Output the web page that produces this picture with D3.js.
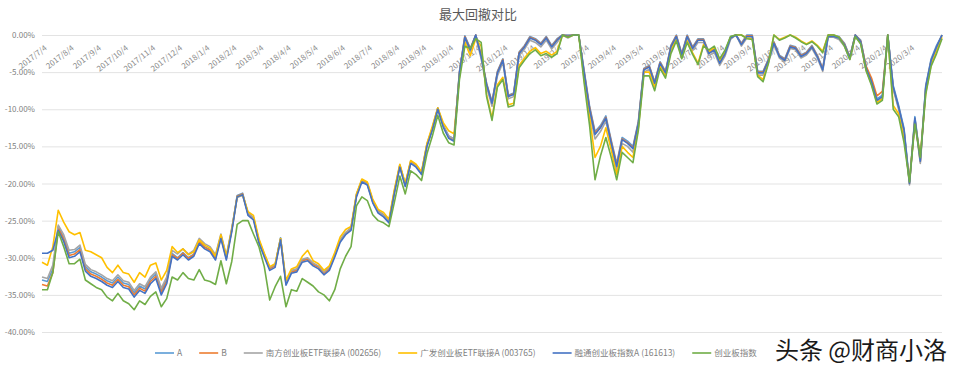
<!DOCTYPE html>
<html><head><meta charset="utf-8">
<script src="https://cdn.jsdelivr.net/npm/d3@7"></script>
<style>
body{margin:0;background:#fff;}
text{font-family:"Microsoft YaHei","Noto Sans CJK SC","Noto Sans",sans-serif;}
</style></head>
<body><svg id="c" width="960" height="367"></svg>
<script>
const monthLabels = ["2017/7/4","2017/8/4","2017/9/4","2017/10/4","2017/11/4","2017/12/4","2018/1/4","2018/2/4","2018/3/4","2018/4/4","2018/5/4","2018/6/4","2018/7/4","2018/8/4","2018/9/4","2018/10/4","2018/11/4","2018/12/4","2019/1/4","2019/2/4","2019/3/4","2019/4/4","2019/5/4","2019/6/4","2019/7/4","2019/8/4","2019/9/4","2019/10/4","2019/11/4","2019/12/4","2020/1/4","2020/2/4","2020/3/4"];
const samplesPerMonth = 5;
const yTicks = [0,-5,-10,-15,-20,-25,-30,-35,-40];
const seriesNames = ["A","B","南方创业板ETF联接A (002656)","广发创业板ETF联接A (003765)","融通创业板指数A (161613)","创业板指数"];

const seriesA = [-33.0,-33.2,-31.5,-25.8,-27.3,-29.4,-29.2,-28.6,-31.2,-31.9,
-32.2,-32.6,-33.1,-33.4,-32.6,-33.4,-33.6,-34.7,-33.8,-34.2,
-32.9,-32.2,-34.4,-32.9,-29.4,-30.0,-29.3,-30.0,-29.5,-27.8,
-28.5,-28.9,-30.0,-27.1,-30.0,-26.2,-21.6,-21.3,-24.0,-24.6,
-27.7,-29.6,-31.4,-31.0,-27.3,-33.4,-31.8,-31.6,-30.3,-30.1,
-30.8,-31.2,-32.0,-31.4,-29.6,-27.6,-26.6,-26.0,-21.5,-19.5,
-19.9,-22.3,-23.7,-24.2,-25.0,-21.0,-17.5,-20.1,-17.0,-17.5,
-18.5,-14.7,-12.5,-9.8,-12.1,-13.6,-14.0,-4.9,-0.1,-1.8,
0,-2.7,-6.5,-9.0,-4.9,-3.2,-8.1,-7.8,-2.3,-1.4,
-0.2,-0.5,-1.1,-0.2,-1.4,-0.5,0,0,0,0,
-4.8,-9.6,-13.0,-12.2,-10.9,-14.2,-17.3,-13.8,-14.3,-15.0,
-11.6,-4.5,-4.1,-6.3,-3.6,-4.9,-1.4,0,-2.5,0,
-1.6,-0.5,-0.5,-2.3,-1.8,-3.6,-2.3,-0.2,0,-1.1,
0,0,-4.9,-4.9,-3.2,-0.9,-2.7,-3.2,-1.4,-1.6,
-2.7,-2.3,-1.4,-2.7,-4.5,0,0,-0.2,-1.1,-2.9,
0,-0.7,-4.3,-6.1,-8.6,-8.1,0,-6.8,-9.5,-12.6,
-19.8,-11.0,-16.8,-6.8,-3.2,-1.4,0];

const seriesB = [-33.6,-33.8,-32.0,-26.0,-27.5,-29.7,-29.5,-28.9,-31.5,-32.2,
-32.5,-32.9,-33.4,-33.7,-32.9,-33.7,-33.9,-35.0,-34.1,-34.5,
-33.2,-32.5,-34.7,-33.2,-29.6,-30.1,-29.4,-30.1,-29.6,-27.9,
-28.6,-29.0,-30.1,-27.2,-30.1,-26.3,-21.7,-21.4,-24.1,-24.7,
-27.8,-29.7,-31.5,-31.1,-27.5,-33.5,-31.9,-31.7,-30.4,-30.2,
-30.9,-31.3,-32.1,-31.5,-29.7,-27.7,-26.7,-26.1,-21.6,-19.6,
-20.0,-22.4,-23.8,-24.3,-25.1,-21.1,-17.6,-20.2,-17.1,-17.6,
-18.6,-14.8,-12.6,-9.9,-12.2,-13.7,-14.1,-5.0,-0.2,-1.9,
0,-2.8,-6.6,-9.1,-5.0,-3.3,-8.2,-7.9,-2.4,-1.5,
-0.3,-0.6,-1.2,-0.3,-1.5,-0.6,0,-0.1,0,0,
-5.0,-9.8,-13.2,-12.4,-11.1,-14.4,-17.5,-14.0,-14.5,-15.2,
-11.8,-4.6,-4.2,-6.4,-3.7,-5.0,-1.5,-0.1,-2.6,-0.1,
-1.7,-0.6,-0.6,-2.4,-1.9,-3.7,-2.4,-0.3,0,-1.2,
-0.1,-0.1,-5.0,-5.0,-3.3,-1.0,-2.8,-3.3,-1.5,-1.7,
-2.8,-2.4,-1.5,-2.8,-4.6,-0.1,-0.1,-0.3,-1.2,-3.0,
0,-0.8,-4.2,-5.8,-8.2,-7.6,0,-7.2,-9.8,-13.0,
-20.0,-11.3,-17.1,-7.1,-3.5,-1.7,0];

const nanfang = [-32.6,-32.8,-31.0,-25.6,-26.9,-29.0,-28.9,-28.3,-30.9,-31.6,
-31.9,-32.3,-32.8,-33.1,-32.3,-33.1,-33.3,-34.4,-33.5,-33.9,
-32.6,-31.9,-34.1,-32.6,-29.0,-29.5,-28.8,-29.5,-29.0,-27.4,
-28.1,-28.5,-29.6,-26.8,-29.7,-26.0,-21.9,-21.6,-24.0,-24.6,
-27.6,-29.5,-31.3,-30.9,-27.4,-33.3,-31.7,-31.5,-30.2,-30.0,
-30.7,-31.1,-31.9,-31.3,-29.5,-27.6,-26.6,-26.0,-21.6,-19.7,
-20.1,-22.5,-23.8,-24.3,-25.1,-21.2,-17.7,-20.3,-17.2,-17.7,
-18.7,-14.9,-12.7,-10.0,-12.2,-13.6,-14.0,-5.4,-0.6,-2.3,
-0.2,-3.2,-7.0,-9.6,-5.5,-3.7,-8.6,-8.3,-2.8,-1.9,
-0.7,-1.0,-1.6,-0.7,-1.9,-1.0,0,-0.4,0,0,
-5.4,-10.5,-14.0,-13.0,-11.6,-15.0,-18.2,-14.6,-15.0,-15.8,
-12.3,-5.0,-4.6,-6.8,-4.1,-5.4,-1.9,-0.4,-3.0,-0.4,
-2.1,-1.0,-1.0,-2.8,-2.3,-4.1,-2.8,-0.6,0,-1.5,
-0.4,-0.4,-5.4,-5.4,-3.7,-1.3,-3.1,-3.6,-1.8,-2.0,
-3.1,-2.7,-1.8,-3.1,-4.9,-0.3,-0.3,-0.6,-1.5,-3.3,
-0.2,-1.1,-4.7,-6.5,-9.0,-8.5,0,-7.3,-10.0,-13.1,
-20.2,-11.5,-17.3,-7.3,-3.6,-1.8,0];

const guangfa = [-30.6,-31.0,-28.5,-23.6,-25.2,-26.5,-26.9,-26.6,-29.0,-29.2,
-29.6,-30.0,-31.3,-32.0,-31.0,-32.0,-32.2,-33.3,-32.0,-32.6,
-31.0,-30.7,-33.0,-31.7,-28.5,-29.3,-28.8,-29.6,-29.2,-27.6,
-28.3,-28.7,-29.8,-26.9,-29.8,-26.2,-21.8,-21.5,-23.8,-24.3,
-27.4,-29.4,-31.2,-30.8,-27.4,-33.0,-31.5,-31.2,-29.8,-29.0,
-30.4,-30.8,-31.7,-31.1,-29.3,-27.2,-26.2,-25.8,-21.4,-19.4,
-19.8,-22.1,-23.5,-23.9,-24.8,-20.8,-17.4,-20.0,-16.9,-17.4,
-18.4,-14.6,-12.3,-9.8,-11.8,-12.9,-13.3,-5.5,-1.0,-2.8,
-0.5,-1.5,-8.0,-11.2,-6.7,-5.7,-9.4,-9.2,-4.1,-3.1,
-2.2,-1.7,-2.5,-2.2,-2.7,-2.2,0,-0.3,0,0,
-6.0,-11.0,-16.5,-15.0,-12.5,-15.5,-18.8,-15.0,-15.8,-16.5,
-12.5,-5.0,-5.0,-7.0,-4.2,-5.5,-2.0,-0.6,-3.0,-0.8,
-2.4,-3.8,-1.3,-2.2,-1.7,-3.4,-2.2,-0.3,0,0,
-0.4,-0.5,-5.4,-6.0,-3.6,0,-0.6,-0.3,0,-0.3,
-0.8,-1.2,-0.8,-1.4,-2.2,0,0,-0.3,-1.4,-3.2,
-0.1,-1.1,-4.7,-6.6,-9.1,-8.6,0,-9.5,-10.6,-14.0,
-19.5,-11.8,-16.2,-7.8,-4.0,-2.2,-0.3];

const rongtong = [-29.4,-29.4,-29.0,-26.3,-27.8,-30.0,-29.8,-29.2,-31.8,-32.5,
-32.8,-33.2,-33.7,-34.0,-33.2,-34.0,-34.2,-35.3,-34.4,-34.8,
-33.5,-32.8,-35.0,-33.5,-29.8,-30.3,-29.6,-30.3,-29.8,-28.1,
-28.8,-29.2,-30.3,-27.4,-30.3,-26.5,-21.8,-21.5,-24.3,-24.9,
-28.0,-29.9,-31.7,-31.3,-27.6,-33.7,-32.1,-31.9,-30.6,-30.4,
-31.1,-31.5,-32.3,-31.7,-29.9,-27.9,-26.9,-26.3,-21.8,-19.8,
-20.2,-22.6,-24.0,-24.5,-25.3,-21.3,-17.8,-20.4,-17.3,-17.8,
-18.8,-15.0,-12.8,-10.0,-12.4,-13.9,-14.3,-5.1,-0.3,-2.0,
0,-2.9,-6.7,-9.2,-5.1,-3.4,-8.3,-8.0,-2.5,-1.6,
-0.4,-0.7,-1.3,-0.4,-1.6,-0.7,0,-0.2,0,0,
-5.1,-10.0,-13.4,-12.5,-11.2,-14.6,-17.7,-14.1,-14.6,-15.3,
-11.9,-4.7,-4.3,-6.5,-3.8,-5.1,-1.6,-0.2,-2.7,-0.2,
-1.8,-0.7,-0.7,-2.5,-2.0,-3.8,-2.5,-0.4,0,-1.3,
-0.2,-0.2,-5.1,-5.1,-3.4,-1.1,-2.9,-3.4,-1.6,-1.8,
-2.9,-2.5,-1.6,-2.9,-4.7,-0.2,-0.2,-0.4,-1.3,-3.1,
0,-0.9,-4.5,-6.3,-8.8,-8.3,0,-7.0,-9.7,-12.8,
-20.0,-11.2,-17.0,-7.0,-3.4,-1.6,0];

const cybIndex = [-34.3,-34.3,-32.0,-26.5,-28.5,-30.8,-30.8,-30.2,-33.0,-33.5,
-34.0,-34.3,-35.3,-35.8,-34.8,-35.8,-36.2,-37.0,-35.8,-36.3,
-35.2,-34.6,-36.6,-35.5,-32.6,-33.0,-32.0,-32.8,-33.0,-31.6,
-33.0,-33.2,-33.6,-30.4,-33.5,-30.5,-25.5,-25.0,-25.0,-26.8,
-28.5,-31.2,-35.7,-33.9,-32.5,-36.6,-34.3,-34.5,-32.8,-33.3,
-33.8,-34.6,-35.0,-35.8,-34.3,-31.5,-29.8,-28.5,-23.0,-21.8,
-22.3,-24.2,-25.0,-25.3,-25.8,-22.5,-19.0,-21.4,-18.3,-18.8,
-19.6,-16.0,-13.6,-10.8,-13.2,-14.5,-14.8,-6.0,-1.5,-1.8,
-0.5,-1.0,-8.3,-11.5,-7.0,-6.0,-9.7,-9.5,-4.4,-3.4,
-2.5,-2.0,-2.8,-2.5,-3.0,-2.5,0,-0.3,0,0,
-6.5,-12.2,-19.5,-16.3,-13.8,-16.5,-19.5,-15.8,-16.5,-17.2,
-12.8,-5.5,-5.5,-7.5,-4.5,-5.8,-2.5,-0.8,-3.2,-1.0,
-2.6,-4.0,-1.5,-2.0,-1.5,-3.2,-2.0,-0.2,0,0,
-0.5,-0.6,-5.6,-6.3,-3.8,0,-0.7,-0.4,0,-0.4,
-0.9,-1.3,-0.9,-1.5,-2.4,0,0,-0.3,-1.5,-3.3,
-0.2,-1.2,-4.8,-6.8,-9.3,-8.8,0,-10.0,-11.0,-14.5,
-19.8,-12.0,-16.5,-8.0,-4.2,-2.5,-0.5];

const seriesColors = ["#5B9BD5","#ED7D31","#A5A5A5","#FFC000","#4472C4","#70AD47"];
const allSeries = [seriesA, seriesB, nanfang, guangfa, rongtong, cybIndex];

const svg = d3.select("#c");
const W = 960, H = 367;
const m = {left:42, right:18, top:35, bottom:35};
const n = rongtong.length;
const x = d3.scaleLinear().domain([0, n-1]).range([m.left, W - m.right]);
const y = d3.scaleLinear().domain([-40, 0]).range([H - m.bottom, m.top]);

// title
svg.append("text").attr("x", 478).attr("y", 19).attr("text-anchor","middle")
  .attr("font-size", 13).attr("fill", "#595959").text("最大回撤对比");

// gridlines + y labels
const yAxis = d3.axisLeft(y).tickValues(yTicks).tickSize(-(W - m.left - m.right))
  .tickFormat(d => d.toFixed(2) + "%");
const gy = svg.append("g").attr("transform", `translate(${m.left},0)`).call(yAxis);
gy.select(".domain").remove();
gy.selectAll(".tick line").attr("stroke", "#e3e3e3").attr("stroke-width", 1);
gy.selectAll(".tick text").attr("font-size", 8).attr("fill", "#7f7f7f").attr("x", -7);

// x labels (category axis crossing at 0)
const tickIdx = monthLabels.map((_, k) => k * samplesPerMonth);
const xAxis = d3.axisBottom(x).tickValues(tickIdx).tickSize(0)
  .tickFormat((d, k) => monthLabels[k]);
const gx = svg.append("g").attr("transform", `translate(0,${y(0)})`).call(xAxis);
gx.select(".domain").remove();
gx.selectAll(".tick text").attr("font-size", 8).attr("fill", "#8a8a8a")
  .attr("text-anchor", "end").attr("dy", 0).attr("y", 0)
  .attr("transform", "translate(5,14) rotate(-38)");

// lines
const line = d3.line().x((d, i) => x(i)).y(d => y(d));
svg.append("g").selectAll("path").data(allSeries).join("path")
  .attr("d", d => line(d)).attr("fill", "none")
  .attr("stroke", (d, i) => seriesColors[i]).attr("stroke-width", 1.6)
  .attr("stroke-linejoin", "round");

// legend
const lg = svg.append("g").attr("transform", "translate(0,353)");
let cx = 155;
seriesNames.forEach((name, i) => {
  lg.append("line").attr("x1", cx).attr("x2", cx + 19).attr("y1", 0).attr("y2", 0)
    .attr("stroke", seriesColors[i]).attr("stroke-width", 1.6);
  const t = lg.append("text").attr("x", cx + 22).attr("y", 3).attr("font-size", 8.5)
    .attr("fill", "#7f7f7f").text(name);
  cx += 22 + t.node().getComputedTextLength() + 17;
});

// watermark
svg.append("text").attr("x", 947).attr("y", 359).attr("text-anchor", "end")
  .attr("font-size", 24).attr("fill", "#1a1a1a").text("头条 @财商小洛");
</script></body></html>
